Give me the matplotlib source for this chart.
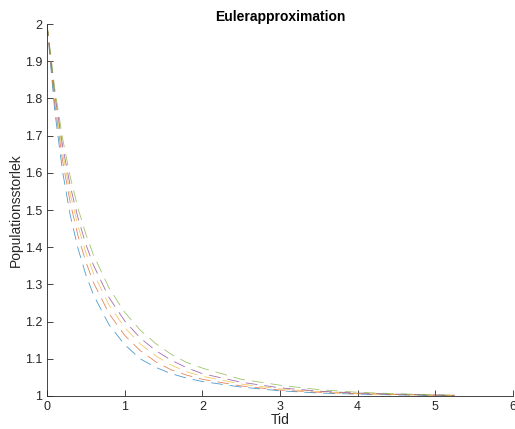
import matplotlib
matplotlib.use("Agg")
import matplotlib.pyplot as plt

# Time points (same for all runs)
t = [0, 0.1, 0.2, 0.3, 0.4, 0.5, 0.6, 0.8, 1.0, 1.2, 1.4, 1.6, 1.8, 2.0,
     2.5, 3.0, 3.5, 4.0, 4.5, 5.0, 5.25]

# Population size, one list per run
pop_blue = [2, 1.766, 1.604, 1.485, 1.396, 1.326, 1.271, 1.191, 1.138, 1.100,
            1.077, 1.060, 1.048, 1.039, 1.024, 1.014, 1.008, 1.005, 1.003, 1.001, 1.001]
pop_orange = [2, 1.787, 1.633, 1.519, 1.430, 1.361, 1.304, 1.221, 1.163, 1.122,
              1.092, 1.070, 1.056, 1.045, 1.027, 1.016, 1.010, 1.006, 1.004, 1.002, 1.001]
pop_yellow = [2, 1.801, 1.655, 1.543, 1.456, 1.386, 1.329, 1.244, 1.184, 1.140,
              1.108, 1.083, 1.065, 1.053, 1.032, 1.019, 1.012, 1.007, 1.004, 1.002, 1.002]
pop_purple = [2, 1.813, 1.673, 1.564, 1.478, 1.408, 1.351, 1.264, 1.202, 1.156,
              1.122, 1.096, 1.076, 1.060, 1.037, 1.022, 1.013, 1.008, 1.005, 1.003, 1.002]
pop_green = [2, 1.826, 1.693, 1.588, 1.504, 1.435, 1.378, 1.290, 1.225, 1.177,
             1.141, 1.112, 1.090, 1.075, 1.045, 1.029, 1.017, 1.010, 1.006, 1.003, 1.003]

series = [pop_blue, pop_orange, pop_yellow, pop_purple, pop_green]
colors = ["#0072BD", "#D95319", "#EDB120", "#7E2F8E", "#77AC30"]

plt.rcParams["font.family"] = ["Liberation Sans", "DejaVu Sans"]
plt.rcParams["lines.scale_dashes"] = False

fig = plt.figure(figsize=(5.15, 4.29), dpi=100)
ax = fig.add_axes([47 / 515, 33 / 429, 466 / 515, 372 / 429])

for y, c in zip(series, colors):
    ax.plot(t, y, color=c, linewidth=0.6, alpha=0.7, dashes=(8.5, 5))

ax.set_xlim(0, 6)
ax.set_ylim(1, 2)
ax.set_xticks(range(0, 7))
ax.set_yticks([1 + i / 10 for i in range(11)])
ax.set_yticklabels(["1", "1.1", "1.2", "1.3", "1.4", "1.5", "1.6", "1.7", "1.8", "1.9", "2"])

for s in ["top", "right"]:
    ax.spines[s].set_visible(False)
for s in ["left", "bottom"]:
    ax.spines[s].set_color("#262626")
    ax.spines[s].set_linewidth(0.6)
ax.tick_params(direction="in", length=4, width=0.6, colors="#262626", labelsize=9)

ax.set_xlabel("Tid", fontsize=10, color="#262626", labelpad=0)
ax.set_ylabel("Populationsstorlek", fontsize=10, color="#262626", labelpad=1)
ax.set_title("Eulerapproximation", fontsize=10, fontweight="bold", pad=2)

fig.savefig("out.png", dpi=100)
